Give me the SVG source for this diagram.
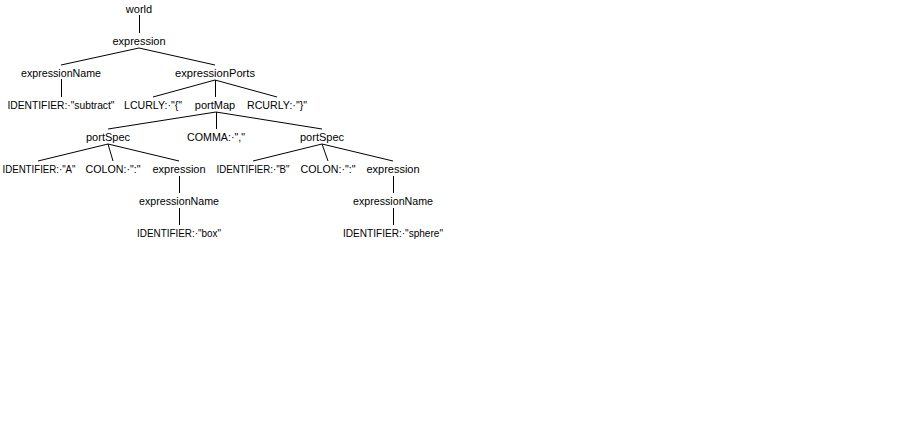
<svg xmlns="http://www.w3.org/2000/svg" width="917" height="433" viewBox="0 0 917 433">
<style>
text{font-family:"Liberation Sans",Arial,sans-serif;font-size:11px;fill:#000;text-anchor:middle}
.t{lengthAdjust:spacingAndGlyphs}
line{stroke:#000;stroke-width:1}
</style>
<rect width="917" height="433" fill="#fff"/>
<g id="connectors">
<line x1="139.5" y1="15" x2="139.5" y2="33"/>
<line x1="139" y1="48" x2="61" y2="65"/>
<line x1="139" y1="48" x2="215" y2="65"/>
<line x1="61.5" y1="79" x2="61.5" y2="97"/>
<line x1="215" y1="80" x2="153" y2="97"/>
<line x1="215.5" y1="80" x2="215.5" y2="97"/>
<line x1="215" y1="80" x2="277" y2="97"/>
<line x1="216" y1="112" x2="108" y2="129"/>
<line x1="216.5" y1="112" x2="216.5" y2="129"/>
<line x1="216" y1="112" x2="322" y2="129"/>
<line x1="108" y1="144" x2="38" y2="161"/>
<line x1="108" y1="144" x2="113" y2="161"/>
<line x1="108" y1="144" x2="179" y2="161"/>
<line x1="322" y1="144" x2="253" y2="161"/>
<line x1="322" y1="144" x2="328" y2="161"/>
<line x1="322" y1="144" x2="393" y2="161"/>
<line x1="179.5" y1="176" x2="179.5" y2="193"/>
<line x1="393.5" y1="176" x2="393.5" y2="193"/>
<line x1="179.5" y1="208" x2="179.5" y2="225"/>
<line x1="393.5" y1="208" x2="393.5" y2="225"/>
</g>
<g id="n_world"><text x="139" y="13">world</text></g>
<g id="n_expression"><text x="139" y="45">expression</text></g>
<g id="n_expressionName"><text x="61" y="77" textLength="80" lengthAdjust="spacingAndGlyphs">expressionName</text></g>
<g id="n_expressionPorts"><text x="215" y="77" textLength="80" lengthAdjust="spacingAndGlyphs">expressionPorts</text></g>
<g id="n_id_subtract"><text x="61" y="109" textLength="107" lengthAdjust="spacingAndGlyphs">IDENTIFIER:·"subtract"</text></g>
<g id="n_lcurly"><text x="153" y="109" textLength="58" lengthAdjust="spacingAndGlyphs">LCURLY:·"{"</text></g>
<g id="n_portMap"><text x="215" y="109">portMap</text></g>
<g id="n_rcurly"><text x="277" y="109" textLength="60" lengthAdjust="spacingAndGlyphs">RCURLY:·"}"</text></g>
<g id="n_portSpec1"><text x="108" y="141">portSpec</text></g>
<g id="n_comma"><text x="216" y="141" textLength="58" lengthAdjust="spacingAndGlyphs">COMMA:·","</text></g>
<g id="n_portSpec2"><text x="322" y="141">portSpec</text></g>
<g id="n_id_A"><text x="39" y="173" textLength="73" lengthAdjust="spacingAndGlyphs">IDENTIFIER:·"A"</text></g>
<g id="n_colon1"><text x="113" y="173" textLength="55" lengthAdjust="spacingAndGlyphs">COLON:·":"</text></g>
<g id="n_expression1"><text x="179" y="173">expression</text></g>
<g id="n_id_B"><text x="253" y="173" textLength="73" lengthAdjust="spacingAndGlyphs">IDENTIFIER:·"B"</text></g>
<g id="n_colon2"><text x="328" y="173" textLength="55" lengthAdjust="spacingAndGlyphs">COLON:·":"</text></g>
<g id="n_expression2"><text x="393" y="173">expression</text></g>
<g id="n_expressionName1"><text x="179" y="205" textLength="80" lengthAdjust="spacingAndGlyphs">expressionName</text></g>
<g id="n_expressionName2"><text x="393" y="205" textLength="80" lengthAdjust="spacingAndGlyphs">expressionName</text></g>
<g id="n_id_box"><text x="179" y="237" textLength="84" lengthAdjust="spacingAndGlyphs">IDENTIFIER:·"box"</text></g>
<g id="n_id_sphere"><text x="393" y="237" textLength="100" lengthAdjust="spacingAndGlyphs">IDENTIFIER:·"sphere"</text></g>
</svg>
